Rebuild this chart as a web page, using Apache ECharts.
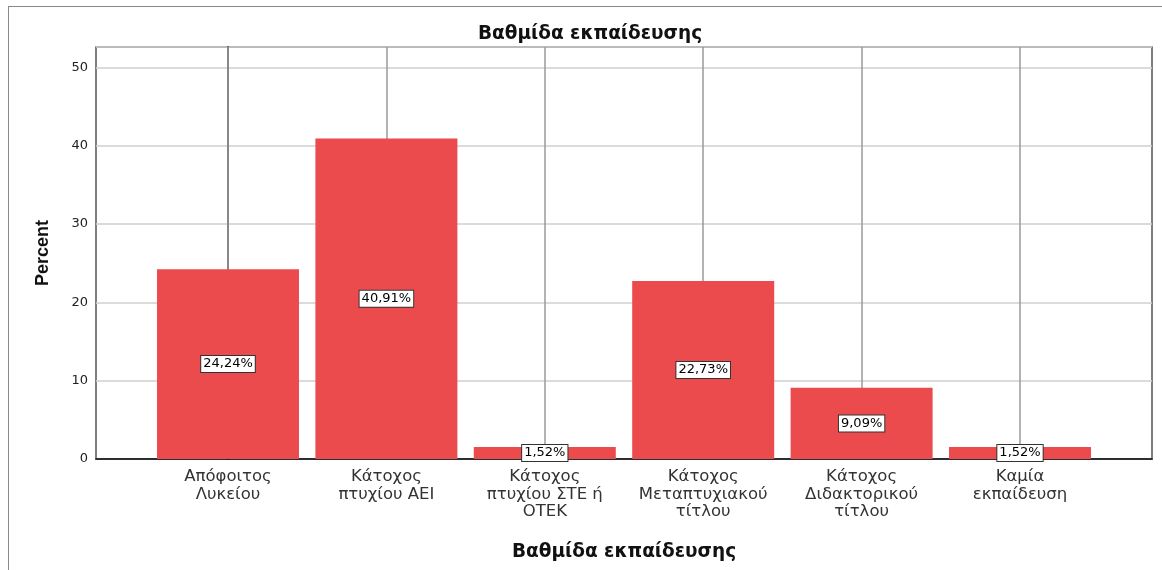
<!DOCTYPE html>
<html>
<head>
<meta charset="utf-8">
<script src="https://cdn.jsdelivr.net/npm/echarts@6/dist/echarts.min.js"></script>
<style>
  body { margin: 0; background: #fff; }
  #chart { width: 1162px; height: 570px; }
  /* outer frame of the exported picture */
  #frame {
    position: absolute; left: 8px; top: 6px; width: 1160px; height: 570px;
    border-left: 1.5px solid #8a8a8a; border-top: 1.5px solid #8a8a8a;
    pointer-events: none;
  }
</style>
</head>
<body>
<div id="chart"></div>
<div id="frame"></div>
<script>
// categories (education level) and tick labels as printed
const categories = [
  "Απόφοιτος Λυκείου",
  "Κάτοχος πτυχίου ΑΕΙ",
  "Κάτοχος πτυχίου ΣΤΕ ή ΟΤΕΚ",
  "Κάτοχος Μεταπτυχιακού τίτλου",
  "Κάτοχος Διδακτορικού τίτλου",
  "Καμία εκπαίδευση"
];
const tickLabels = [
  "Απόφοιτος\nΛυκείου",
  "Κάτοχος\nπτυχίου ΑΕΙ",
  "Κάτοχος\nπτυχίου ΣΤΕ ή\nΟΤΕΚ",
  "Κάτοχος\nΜεταπτυχιακού\nτίτλου",
  "Κάτοχος\nΔιδακτορικού\nτίτλου",
  "Καμία\nεκπαίδευση"
];
const percent = [24.24, 40.91, 1.52, 22.73, 9.09, 1.52];
const yTicks = [0, 10, 20, 30, 40, 50];

const positions = categories.map((c, i) => i);
const wide = "DejaVu Sans, Verdana, sans-serif";

let mychart = echarts.init(document.getElementById("chart"));
mychart.setOption({
  animation: false,
  textStyle: { fontFamily: wide },
  title: {
    text: "Βαθμίδα εκπαίδευσης",
    left: 585,
    top: 20,
    textAlign: "center",
    textStyle: { fontSize: 18.5, fontWeight: "bold", color: "#111", fontFamily: wide }
  },
  grid: {
    left: 96,
    right: 10,
    top: 47,
    bottom: 111,
    show: true,
    borderColor: "#555",
    borderWidth: 1.5,
    backgroundColor: "#fff"
  },
  xAxis: {
    type: "value",
    min: -0.8333,
    max: 5.8333,
    name: "Βαθμίδα εκπαίδευσης",
    nameLocation: "middle",
    nameGap: 84,
    nameTextStyle: { fontSize: 18.5, fontWeight: "bold", color: "#111", fontFamily: wide },
    axisLine: { show: true, onZero: false, lineStyle: { color: "#000", width: 1.5 } },
    axisTick: { show: false },
    splitLine: { show: false },
    axisLabel: {
      customValues: positions,
      formatter: v => tickLabels[Math.round(v)],
      fontSize: 16.5,
      lineHeight: 17.5,
      color: "#333",
      fontFamily: wide,
      margin: 9
    }
  },
  yAxis: {
    type: "value",
    min: 0,
    max: 52.6,
    interval: 10,
    name: "Percent",
    nameLocation: "middle",
    nameGap: 44,
    nameTextStyle: { fontSize: 18, fontWeight: "bold", color: "#111", fontFamily: "Liberation Sans, Arial, sans-serif" },
    axisLine: { show: true, lineStyle: { color: "#555", width: 2 } },
    axisTick: { show: false },
    axisLabel: {
      fontSize: 13,
      color: "#222",
      margin: 8,
      showMaxLabel: false,
      formatter: v => (yTicks.indexOf(v) >= 0 ? String(v) : "")
    },
    splitLine: { show: true, lineStyle: { color: "#cfcfcf", width: 1.5 } }
  },
  series: [
    {
      // vertical reference lines at each category, drawn behind the bars
      type: "line",
      data: [],
      z: 1,
      silent: true,
      markLine: {
        z: 1,
        symbol: "none",
        silent: true,
        label: { show: false },
        lineStyle: { color: "#9a9a9a", width: 1.5, type: "solid" },
        data: positions.map(p => ({ xAxis: p }))
      }
    },
    {
      name: "Percent",
      type: "bar",
      z: 3,
      barWidth: 142,
      data: positions.map((p, i) => [p, percent[i]]),
      itemStyle: { color: "#ec4b4e" },
      label: {
        show: true,
        position: "inside",
        formatter: p => p.value[1].toFixed(2).replace(".", ",") + "%",
        color: "#000",
        fontSize: 13,
        fontFamily: wide,
        backgroundColor: "#fff",
        borderColor: "#333",
        borderWidth: 1,
        padding: [2, 2, 1, 2]
      }
    }
  ]
});
window.addEventListener("resize", () => {
  mychart.resize();
});
</script>
</body>
</html>
